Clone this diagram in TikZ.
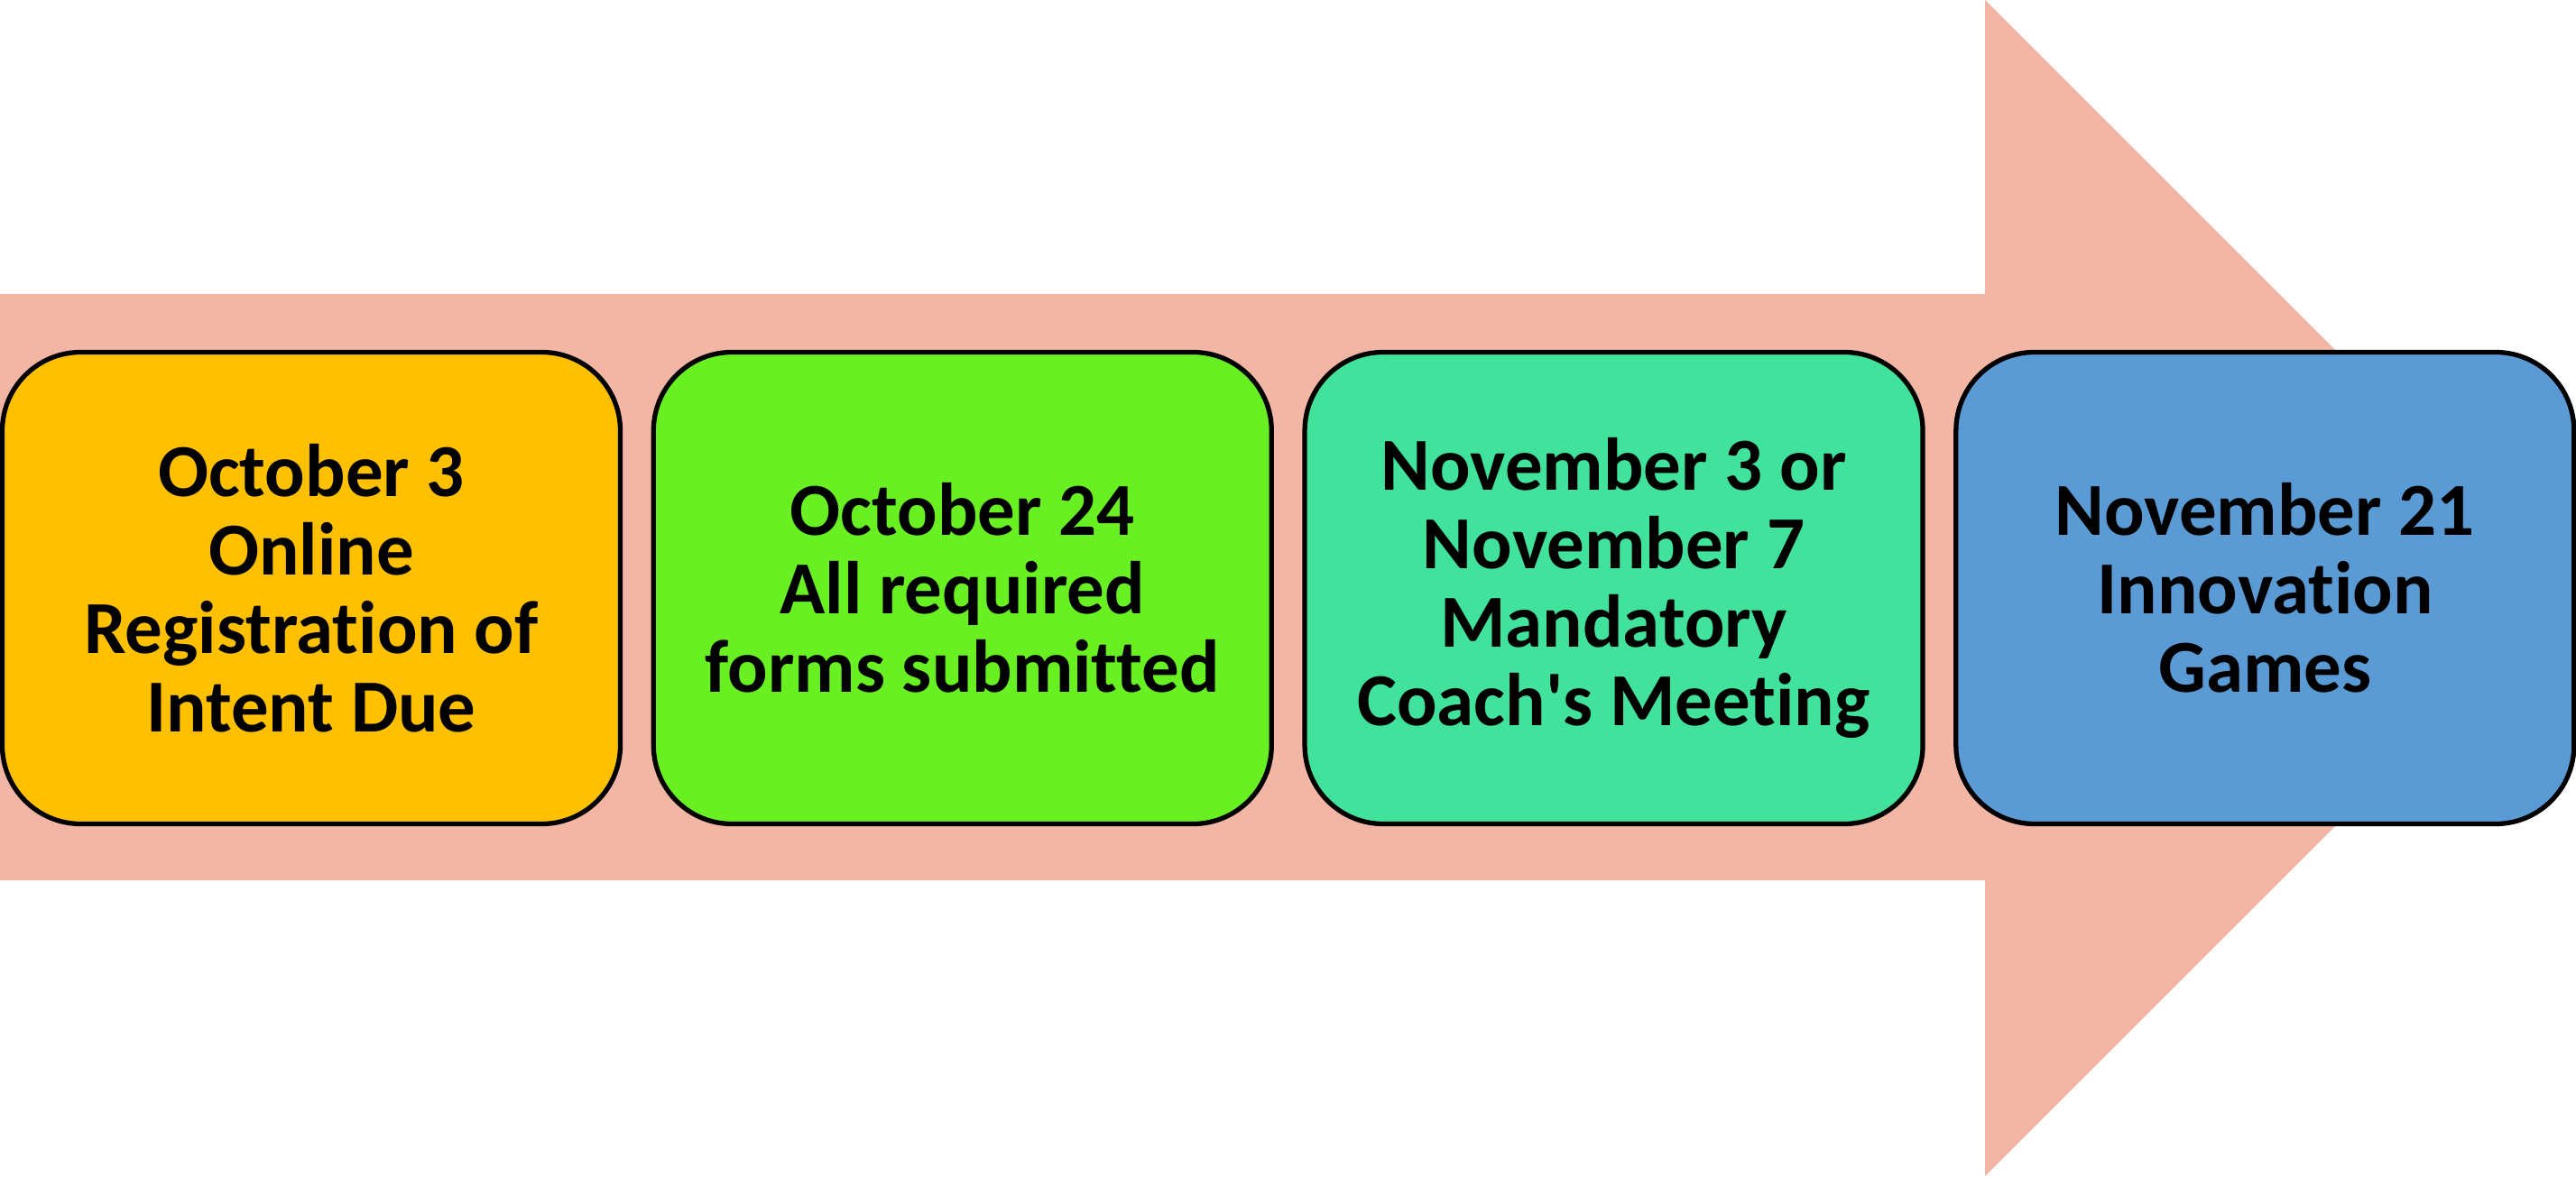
\documentclass[tikz,border=0pt]{standalone}
\usepackage{fontspec}
\setmainfont{Carlito}[Ligatures={TeXOff,NoCommon}]
\usepackage{tikz}
\usetikzlibrary{positioning}

\definecolor{arrowpink}{HTML}{F3B6A4}
\definecolor{octgold}{HTML}{FFC000}
\definecolor{formgreen}{HTML}{69F022}
\definecolor{meetmint}{HTML}{41E29B}
\definecolor{gameblue}{HTML}{5B9BD5}

\begin{document}
\begin{tikzpicture}[box/.style={draw,line width=1.5pt,rounded corners=0.87cm,minimum width=6.85cm,minimum height=5.23cm,inner sep=0pt,align=center,font=\bfseries\fontsize{23.6}{24.8}\selectfont}]
	\useasboundingbox (0,0) rectangle (28.55,13.04);
	\fill[arrowpink] (0,3.28) -- (22.0,3.28) -- (22.0,0) -- (28.52,6.52) -- (22.0,13.04) -- (22.0,9.78) -- (0,9.78) -- cycle;
	
	\draw (3.45,6.52) node (oct3) [box,fill=octgold] {October 3\\Online\\Registration of\\Intent Due};
	\node (oct24) [box,fill=formgreen,right=0.315cm of oct3] {October 24\\All required\\forms submitted};
	\node (nov3) [box,fill=meetmint,right=0.315cm of oct24] {November 3 or\\November 7\\Mandatory\\Coach's Meeting};
	\node (nov21) [box,fill=gameblue,right=0.315cm of nov3] {November 21\\Innovation\\Games};
\end{tikzpicture}
\end{document}
